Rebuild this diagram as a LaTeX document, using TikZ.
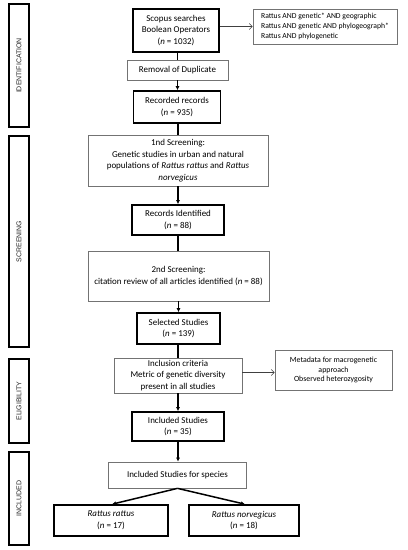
\documentclass[tikz,border=0pt]{standalone}
\usepackage{fontspec}
\setmainfont{Carlito}
\newfontfamily\sidefont{Liberation Sans}
\usetikzlibrary{arrows.meta}
\tikzset{
  thickbox/.style={draw=black, line width=1.6bp, inner sep=0pt, align=center, font=\fontsize{9}{11.6}\selectfont},
  thinbox/.style={draw=black!55, line width=0.7bp, inner sep=0pt, align=center, font=\fontsize{9}{11.6}\selectfont},
  sidebar/.style={draw=black, line width=1.3bp, inner sep=0pt},
  sidelabel/.style={rotate=90, font=\sidefont\fontsize{7}{8}\selectfont, text=black!85},
  mainline/.style={line width=1.5bp, black},
  mainarrow/.style={line width=1.5bp, black, -{Latex[length=4bp,width=4bp]}},
  sidearrow/.style={line width=0.6bp, black!75, -{Straight Barb[length=3bp,width=6bp]}}
}
\begin{document}
\begin{tikzpicture}[x=1bp, y=-1bp]
\useasboundingbox (0,0) rectangle (407,550);
\fill[white] (0,0) rectangle (407,550);
% side bars
\node[sidebar, minimum width=20bp, minimum height=123bp] (sbid) at (19,65.5) {};
\node[sidelabel] (lid) at (sbid.center) {IDENTIFICATION};
\node[sidebar, minimum width=20bp, minimum height=211bp] (sbsc) at (19,241.5) {};
\node[sidelabel] (lsc) at (sbsc.center) {SCREENING};
\node[sidebar, minimum width=20bp, minimum height=84bp] (sbel) at (19,401) {};
\node[sidelabel] (lel) at (sbel.center) {ELIGIBILITY};
\node[sidebar, minimum width=20bp, minimum height=93bp] (sbin) at (19,498.5) {};
\node[sidelabel] (lin) at (sbin.center) {INCLUDED};
% boxes
\node[thickbox, minimum width=86bp, minimum height=43bp] (scopus) at (176,30.5) {Scopus searches\\Boolean Operators\\(\textit{n} = 1032)};
\node[thinbox, minimum width=144bp, minimum height=35bp, align=left, font=\fontsize{7.7}{9.6}\selectfont] (query) at (325,26.5) {Rattus AND genetic* AND geographic\\Rattus AND genetic AND phylogeograph*\\Rattus AND phylogenetic};
\node[thinbox, minimum width=101bp, minimum height=20bp] (removal) at (177.5,70) {Removal of Duplicate};
\node[thickbox, minimum width=87bp, minimum height=32bp] (recorded) at (177,107) {Recorded records\\(\textit{n} = 935)};
\node[thinbox, minimum width=180bp, minimum height=51bp] (scr1) at (178,160.5) {1nd Screening:\\Genetic studies in urban and natural\\populations of \textit{Rattus rattus} and \textit{Rattus}\\\textit{norvegicus}};
\node[thickbox, minimum width=92bp, minimum height=30bp] (recid) at (178,220) {Records Identified\\(\textit{n} = 88)};
\node[thinbox, minimum width=181bp, minimum height=50bp] (scr2) at (178.5,276) {2nd Screening:\\citation review of all articles identified (\textit{n} = 88)};
\node[thickbox, minimum width=83bp, minimum height=31bp] (selected) at (178.5,328.5) {Selected Studies\\(\textit{n} = 139)};
\node[thinbox, minimum width=128bp, minimum height=35bp] (incl) at (178,375.5) {Inclusion criteria\\Metric of genetic diversity\\present in all studies};
\node[thinbox, minimum width=117bp, minimum height=40bp, font=\fontsize{7.9}{9.8}\selectfont] (meta) at (333.5,370) {Metadata for macrogenetic\\approach\\Observed heterozygosity};
\node[thickbox, minimum width=92bp, minimum height=29bp] (included) at (178,426.5) {Included Studies\\(\textit{n} = 35)};
\node[thinbox, minimum width=138bp, minimum height=26bp] (species) at (177.5,475) {Included Studies for species};
\node[thickbox, minimum width=114bp, minimum height=31bp] (rr) at (111,520.5) {\textit{Rattus rattus}\\(\textit{n} = 17)};
\node[thickbox, minimum width=110bp, minimum height=31bp] (rn) at (244,520.5) {\textit{Rattus norvegicus}\\(\textit{n} = 18)};
% connectors
\draw[mainline] (scopus.south -| removal.north) -- (removal.north);
\draw[mainarrow] (removal.south) -- (removal.south |- recorded.north);
\draw[mainline] (recorded.south -| scr1.north) -- (scr1.north);
\draw[mainarrow] (scr1.south) -- (recid.north);
\draw[mainline] (recid.south) -- (scr2.north -| recid.south);
\draw[mainarrow] (scr2.south -| selected.north) -- (selected.north);
\draw[mainline] (selected.south -| incl.north) -- (incl.north);
\draw[mainarrow] (incl.south) -- (included.north);
\draw[mainarrow] (included.south) -- (included.south |- species.north);
\draw[mainarrow] (species.south) -- ([xshift=1bp]rr.north);
\draw[mainarrow] (species.south) -- ([xshift=1bp]rn.north);
\draw[sidearrow] (scopus.east |- query.west) -- (query.west);
\draw[sidearrow] ([yshift=3bp]incl.east) -- ([yshift=3bp]incl.east -| meta.west);
\end{tikzpicture}
\end{document}
